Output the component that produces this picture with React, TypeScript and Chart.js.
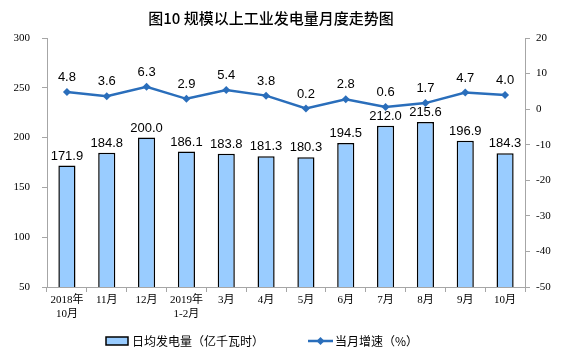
import React, { useEffect, useRef } from "react";
import { Chart, registerables } from "chart.js";
Chart.register(...registerables);

const title = "图10 规模以上工业发电量月度走势图";
const categories: string[][] = [
  ["2018年", "10月"], ["11月"], ["12月"], ["2019年", "1-2月"], ["3月"], ["4月"],
  ["5月"], ["6月"], ["7月"], ["8月"], ["9月"], ["10月"],
];
const dailyOutput = [171.9, 184.8, 200.0, 186.1, 183.8, 181.3, 180.3, 194.5, 212.0, 215.6, 196.9, 184.3];
const growth = [4.8, 3.6, 6.3, 2.9, 5.4, 3.8, 0.2, 2.8, 0.6, 1.7, 4.7, 4.0];
const barLabel = "日均发电量（亿千瓦时）";
const lineLabel = "当月增速（%）";

const BAR_FILL = "#99CCFF";
const LINE_COLOR = "#2A6EBB";
const AXIS_COLOR = "#A6A6A6";
const TICK_FONT = "'Liberation Serif', 'Noto Sans CJK SC', serif";
const LABEL_FONT = "'Liberation Sans', Arial, sans-serif";
const CJK_FONT = "'Noto Sans CJK SC', sans-serif";

const overlayPlugin = {
  id: "overlay",
  afterDraw(chart: any) {
    const ctx = chart.ctx;
    ctx.save();
    // title
    ctx.fillStyle = "#000";
    ctx.font = `500 15px ${CJK_FONT}`;
    ctx.textAlign = "center";
    ctx.textBaseline = "middle";
    ctx.fillText(title, 271, 18);

    // bar labels
    const barMeta = chart.getDatasetMeta(0);
    ctx.font = `13px ${LABEL_FONT}`;
    ctx.textBaseline = "bottom";
    barMeta.data.forEach((el: any, i: number) => {
      ctx.fillText(dailyOutput[i].toFixed(1), el.x, el.y - 3);
    });
    // line labels
    const lineMeta = chart.getDatasetMeta(1);
    lineMeta.data.forEach((el: any, i: number) => {
      ctx.fillText(growth[i].toFixed(1), el.x, el.y - 8);
    });

    // legend
    const ly = 341;
    ctx.fillStyle = BAR_FILL;
    ctx.strokeStyle = "#000";
    ctx.lineWidth = 1.5;
    ctx.fillRect(106, ly - 4, 22, 8);
    ctx.strokeRect(106, ly - 4, 22, 8);
    ctx.fillStyle = "#000";
    ctx.font = `12px ${CJK_FONT}`;
    ctx.textAlign = "left";
    ctx.textBaseline = "middle";
    ctx.fillText(barLabel, 132, ly);

    ctx.strokeStyle = LINE_COLOR;
    ctx.lineWidth = 2.5;
    ctx.beginPath();
    ctx.moveTo(308, ly);
    ctx.lineTo(333, ly);
    ctx.stroke();
    ctx.fillStyle = LINE_COLOR;
    ctx.beginPath();
    ctx.moveTo(320.5, ly - 4);
    ctx.lineTo(324.5, ly);
    ctx.lineTo(320.5, ly + 4);
    ctx.lineTo(316.5, ly);
    ctx.closePath();
    ctx.fill();
    ctx.fillStyle = "#000";
    ctx.fillText(lineLabel, 335, ly);
    ctx.restore();
  },
};

export default function App() {
  const ref = useRef<HTMLCanvasElement>(null);
  useEffect(() => {
    const chart = new Chart(ref.current!, {
      type: "bar",
      data: {
        labels: categories as any,
        datasets: [
          {
            type: "bar",
            label: barLabel,
            data: dailyOutput,
            backgroundColor: BAR_FILL,
            borderColor: "#000",
            borderWidth: 1.5,
            barPercentage: 0.43,
            categoryPercentage: 1,
            yAxisID: "y",
            order: 2,
          },
          {
            type: "line",
            label: lineLabel,
            data: growth,
            borderColor: LINE_COLOR,
            backgroundColor: LINE_COLOR,
            borderWidth: 2.5,
            pointStyle: "rectRot",
            pointRadius: 4,
            pointBorderWidth: 0,
            yAxisID: "y1",
            order: 1,
          } as any,
        ],
      },
      options: {
        animation: false,
        responsive: false,
        layout: { padding: { left: 0, right: 0, top: 38, bottom: 0 } },
        plugins: { legend: { display: false }, title: { display: false }, tooltip: { enabled: false } },
        scales: {
          x: {
            offset: true,
            grid: { display: true, drawOnChartArea: false, offset: true, color: AXIS_COLOR, tickLength: 5 },
            border: { color: AXIS_COLOR },
            ticks: { color: "#000", font: { family: TICK_FONT, size: 11 }, maxRotation: 0, autoSkip: false, padding: 2 },
            afterFit(s: any) { s.height = 70; },
          },
          y: {
            position: "left",
            min: 50,
            max: 300,
            ticks: { stepSize: 50, color: "#000", font: { family: TICK_FONT, size: 11 }, padding: 12 },
            grid: { drawOnChartArea: false, color: AXIS_COLOR, tickLength: 5 },
            border: { color: AXIS_COLOR },
            afterFit(s: any) { s.width = 47; },
          },
          y1: {
            position: "right",
            min: -50,
            max: 20,
            ticks: { stepSize: 10, color: "#000", font: { family: TICK_FONT, size: 11 }, padding: 6 },
            grid: { drawOnChartArea: false, color: AXIS_COLOR, tickLength: 5 },
            border: { color: AXIS_COLOR },
            afterFit(s: any) { s.width = 45; },
          },
        },
      } as any,
      plugins: [overlayPlugin],
    });
    return () => chart.destroy();
  }, []);
  return (
    <div style={{ position: "fixed", left: 0, top: 0, width: 570, height: 357, background: "#fff" }}>
      <canvas ref={ref} width={570} height={357} style={{ width: 570, height: 357, display: "block" }} />
    </div>
  );
}
